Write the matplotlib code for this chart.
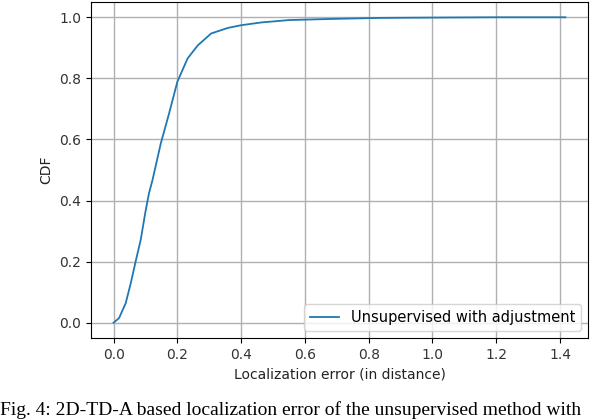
import numpy as np
import matplotlib
matplotlib.use("Agg")
import matplotlib.pyplot as plt

# CDF of localization error
err = [0.0, 0.017, 0.038, 0.054, 0.069, 0.085, 0.099, 0.111, 0.122, 0.148,
       0.174, 0.200, 0.232, 0.264, 0.306, 0.358, 0.400, 0.463, 0.552, 0.700,
       0.840, 1.000, 1.200, 1.417]
cdf = [0.0, 0.015, 0.064, 0.130, 0.200, 0.271, 0.358, 0.424, 0.467, 0.587,
       0.685, 0.789, 0.865, 0.908, 0.947, 0.965, 0.974, 0.983, 0.991, 0.995,
       0.998, 0.999, 1.000, 1.000]

series_label = "Unsupervised with adjustment"
caption = "Fig. 4: 2D-TD-A based localization error of the unsupervised method with"

fig = plt.figure(figsize=(6.04, 4.2), dpi=100)
ax = fig.add_axes([91 / 604, 1 - 338 / 420, (588 - 91) / 604, (338 - 2) / 420])

ax.plot(err, cdf, color="#1f77b4", lw=1.3, label=series_label)
ax.set_xticks(np.arange(0, 1.41, 0.2))
ax.set_yticks(np.arange(0, 1.01, 0.2))
ax.grid(True, color="#b0b0b0", lw=1.0)
ax.set_xlabel("Localization error (in distance)", fontsize=10, color="#222222")
ax.set_ylabel("CDF", fontsize=10, color="#222222")
ax.tick_params(labelsize=10, labelcolor="#333333")
ax.legend(loc="lower right", fontsize=10.5)

# caption of the paper figure, sitting on the bottom edge
fig.text(0.0, 0.002, caption, family="Liberation Serif", fontsize=14,
         ha="left", va="bottom")

fig.savefig("out.png", dpi=100)
